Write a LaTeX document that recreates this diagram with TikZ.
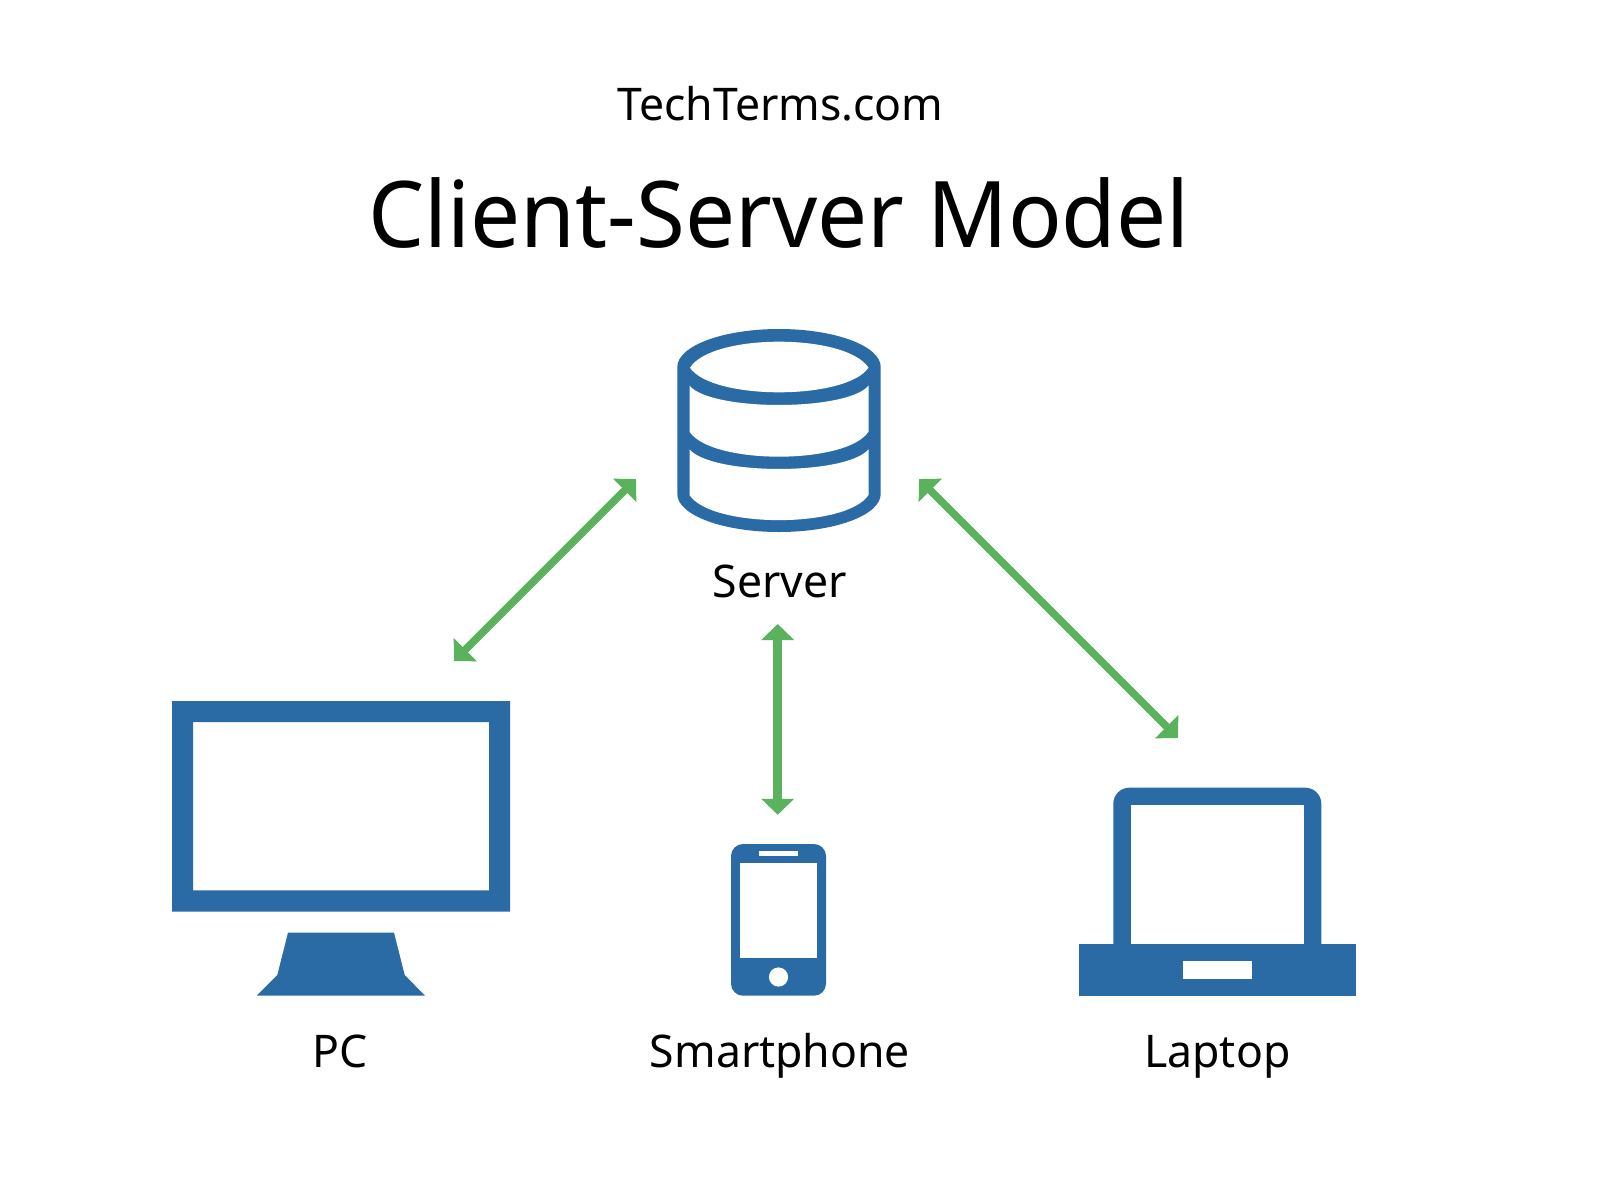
\documentclass[tikz,border=0pt]{standalone}
\usepackage{fontspec}
\setmainfont[FakeStretch=0.99]{Noto Sans}
\newfontfamily\titlefont[FakeStretch=0.967]{Noto Sans}
\usetikzlibrary{arrows.meta}
\definecolor{iconblue}{HTML}{2A6BA6}
\definecolor{linkgreen}{HTML}{5AB25C}
\tikzset{
  blueshape/.style={fill=iconblue,draw=none},
  hole/.style={fill=white,draw=none},
  iconbox/.style={inner sep=0pt,outer sep=0pt},
  link/.style={draw=linkgreen,line width=7.5pt,{Triangle[length=16pt,width=32pt,fill=linkgreen]}-{Triangle[length=16pt,width=32pt,fill=linkgreen]}},
  vlink/.style={draw=linkgreen,line width=8.5pt,{Triangle[length=16pt,width=32pt,fill=linkgreen]}-{Triangle[length=16pt,width=32pt,fill=linkgreen]}},
  lbl/.style={font=\fontsize{45}{50}\selectfont,text=black,inner sep=0pt,anchor=base}
}
\begin{document}
\begin{tikzpicture}[x=1pt,y=-1pt]
\useasboundingbox (0,0) rectangle (1600,1200);
\fill[white] (0,0) rectangle (1600,1200);
% bounding nodes of the icons
\node[iconbox,minimum width=203.4pt,minimum height=203pt] (server) at (779,430.5) {};
\node[iconbox,minimum width=338pt,minimum height=210.7pt] (pc) at (341,806.3) {};
\node[iconbox,minimum width=95pt,minimum height=151.7pt] (phone) at (778.5,919.8) {};
\node[iconbox,minimum width=208pt,minimum height=208.3pt] (laptop) at (1217.3,891.8) {};
% server
\fill[blueshape] (677.3,367) arc [start angle=180,end angle=360,x radius=101.7,y radius=38] -- (880.7,494) arc [start angle=0,end angle=-180,x radius=101.7,y radius=-38] -- cycle;
\fill[hole] (690,367.7) .. controls (712,333) and (846,333) .. (868.5,367.7) .. controls (846,400.5) and (712,400.5) .. (690,367.7) -- cycle;
\fill[hole] (689.5,385.7) .. controls (711.5,411.4) and (846.5,411.4) .. (868.5,385.7) -- (868.5,431.7) .. controls (846.5,465) and (711.5,465) .. (689.5,431.7) -- cycle;
\fill[hole] (689.5,449.3) .. controls (711.5,475.5) and (846.5,475.5) .. (868.5,449.3) -- (868.5,495) .. controls (846.5,528.5) and (711.5,528.5) .. (689.5,495) -- cycle;
% pc
\fill[blueshape,even odd rule] (172,701) rectangle (510,911.7) (193,722) rectangle (489,890.3);
\fill[blueshape] (288,932.7) -- (394,932.7) -- (404.7,975) -- (425,995.7) -- (256.7,995.7) -- (277.3,975) -- cycle;
% phone
\fill[blueshape,rounded corners=12pt] (731,844) rectangle (826,995.7);
\fill[hole] (740.3,863) rectangle (816.7,957.7);
\fill[hole] (759.3,851) rectangle (797.7,855.7);
\fill[hole] (778.5,977) circle (9.6);
% laptop
\fill[blueshape,rounded corners=16pt] (1113.3,960) -- (1113.3,787.7) -- (1321.3,787.7) -- (1321.3,960) -- cycle;
\fill[hole] (1131,805) rectangle (1304,950);
\fill[blueshape] (1079,944) rectangle (1356,996);
\fill[hole] (1182.7,961.3) rectangle (1252.3,978.7);
% text
\node[lbl] (site) at (780.6,120) {TechTerms.com};
\node[lbl,font=\titlefont\fontsize{92}{100}\selectfont] (title) at (779,247) {Client-Server Model};
\node[lbl] (serverlabel) at (780,597) {Server};
\node[lbl] (pclabel) at (340,1067) {PC};
\node[lbl] (phonelabel) at (780,1067) {Smartphone};
\node[lbl] (laptoplabel) at (1217.3,1067) {Laptop};
% connectors
\draw[link] ([shift={(-41.3,-53)}]server.south west) -- ([shift={(-56,-39.95)}]pc.north east);
\draw[link] ([shift={(38.3,-53)}]server.south east) -- ([shift={(64.7,-49.65)}]laptop.north west);
\draw[vlink] ([shift={(-1.3,92)}]server.south) -- ([shift={(-0.8,-29.2)}]phone.north);
\end{tikzpicture}
\end{document}
